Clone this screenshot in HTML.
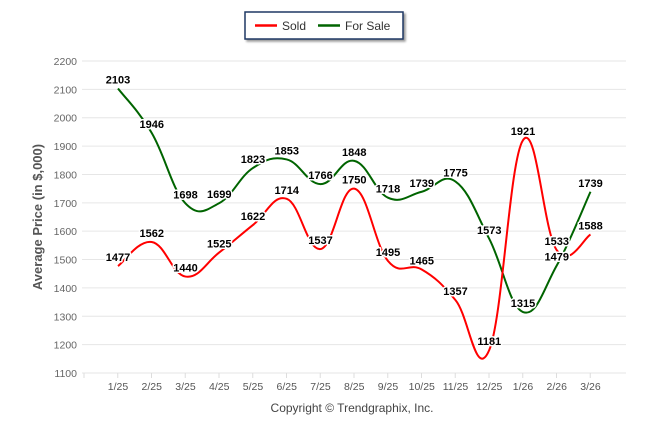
<!DOCTYPE html>
<html><head><meta charset="utf-8"><style>
body{margin:0;background:#fff;}
svg{display:block;font-family:"Liberation Sans",sans-serif;}
</style></head><body>
<svg id="c" width="646" height="434" xmlns="http://www.w3.org/2000/svg">
<rect x="245" y="12" width="158" height="27" fill="#fff" stroke="#1f3864" stroke-width="1.5" style="filter:drop-shadow(2px 2px 1px #999)"/>
<line x1="255" y1="25.5" x2="277" y2="25.5" stroke="#f00" stroke-width="2.5"/>
<text x="282" y="30" font-size="12" fill="#333">Sold</text>
<line x1="318" y1="25.5" x2="340" y2="25.5" stroke="#006400" stroke-width="2.5"/>
<text x="345" y="30" font-size="12" fill="#333">For Sale</text>
<text transform="translate(42,217) rotate(-90)" text-anchor="middle" font-size="13" font-weight="bold" fill="#555">Average Price (in $,000)</text>
<text x="352" y="412" text-anchor="middle" font-size="12" fill="#444">Copyright © Trendgraphix, Inc.</text>
</svg>
<script>
const s=document.getElementById('c'),NS='http://www.w3.org/2000/svg';
function el(t,a,txt){const e=document.createElementNS(NS,t);for(const k in a)e.setAttribute(k,a[k]);if(txt!=null)e.textContent=txt;s.appendChild(e);return e;}
const Y=v=>61+(2200-v)*0.28364, X=i=>118+i*33.75;
for(let v=1100;v<=2200;v+=100){el('line',{x1:82,x2:626,y1:Y(v),y2:Y(v),stroke:'#e6e6e6','stroke-width':1});
el('text',{x:77,y:Y(v)+4,'text-anchor':'end','font-size':10.5,fill:'#666'},v);}
for(let i=0;i<=15;i++){const x=84+i*33.75;el('line',{x1:x,x2:x,y1:Y(1100),y2:Y(1100)+5,stroke:'#ddd'});}
const L=['1/25','2/25','3/25','4/25','5/25','6/25','7/25','8/25','9/25','10/25','11/25','12/25','1/26','2/26','3/26'];
L.forEach((l,i)=>el('text',{x:X(i),y:390,'text-anchor':'middle','font-size':10.5,fill:'#555'},l));
const sold=[1477,1562,1440,1525,1622,1714,1537,1750,1495,1465,1357,1181,1921,1533,1588];
const sale=[2103,1946,1698,1699,1823,1853,1766,1848,1718,1739,1775,1573,1315,1479,1739];
function path(d,c){const p=d.map((v,i)=>[X(i),Y(v)]);let str='M'+p[0];
for(let i=0;i<p.length-1;i++){const p0=p[i-1]||p[i],p1=p[i],p2=p[i+1],p3=p[i+2]||p2,t=0.2;
const c1=[p1[0]+(p2[0]-p0[0])*t,p1[1]+(p2[1]-p0[1])*t],c2=[p2[0]-(p3[0]-p1[0])*t,p2[1]-(p3[1]-p1[1])*t];
str+=' C'+c1+' '+c2+' '+p2;}
el('path',{d:str,fill:'none',stroke:c,'stroke-width':2});return p;}
const ps=path(sale,'#006400'),pd=path(sold,'#f00');
function labs(d,p){d.forEach((v,i)=>{const a={x:p[i][0],y:p[i][1]-5,'text-anchor':'middle','font-size':11,'font-weight':'bold'};
el('text',Object.assign({},a,{stroke:'#fff','stroke-width':3,fill:'#fff','stroke-linejoin':'round'}),v);el('text',Object.assign({},a,{fill:'#000'}),v);});}
labs(sale,ps);labs(sold,pd);
</script>
</body></html>
